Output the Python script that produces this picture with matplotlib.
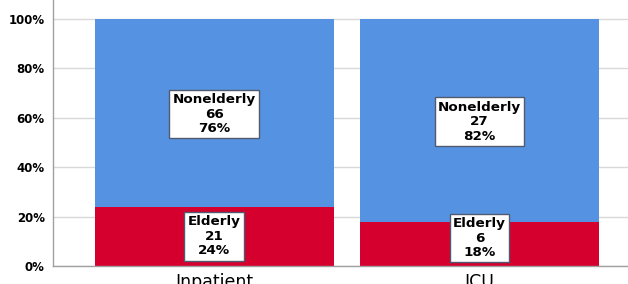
import numpy as np
import matplotlib.pyplot as plt

# ---- data ----
groups      = ["Inpatient", "ICU"]
elderly_n   = [21, 6]
nonelder_n  = [66, 27]
elderly_pct = [24, 18]
nonelder_pct = [76, 82]

c_elderly  = "#d5002e"
c_nonelder = "#5593e2"

fig = plt.figure(figsize=(6.28, 2.84), dpi=100)
ax = fig.add_axes([0.0844, 0.0634, 0.9156, 0.9366])

x = np.arange(len(groups))
ax.bar(x, elderly_pct, width=0.9, color=c_elderly, zorder=2)
ax.bar(x, nonelder_pct, width=0.9, bottom=elderly_pct, color=c_nonelder, zorder=2)

box = dict(boxstyle="square,pad=0.25", facecolor="white", edgecolor="#505a6e", linewidth=1)
for i in range(len(groups)):
    ax.text(x[i], max(elderly_pct[i] / 2, 11.3), f"Elderly\n{elderly_n[i]}\n{elderly_pct[i]}%",
            ha="center", va="center", fontsize=9.7, fontweight="bold",
            linespacing=1.15, bbox=box, zorder=3)
    ax.text(x[i], elderly_pct[i] + nonelder_pct[i] / 2 - 0.5, f"Nonelderly\n{nonelder_n[i]}\n{nonelder_pct[i]}%",
            ha="center", va="center", fontsize=9.7, fontweight="bold",
            linespacing=1.15, bbox=box, zorder=3)

ax.set_xlim(-0.608, 1.56)
ax.set_ylim(0, 107.7)
ax.set_yticks([0, 20, 40, 60, 80, 100])
ax.set_yticklabels([f"{v}%" for v in range(0, 101, 20)], fontsize=8.5, fontweight="bold")
ax.set_xticks(x)
ax.set_xticklabels(groups, fontsize=12.5)
ax.tick_params(axis="both", length=0, pad=6)
ax.tick_params(axis="x", pad=5)

ax.yaxis.grid(True, color="#d9d9d9", linewidth=1, zorder=0)
ax.set_axisbelow(True)
for s in ["top", "right"]:
    ax.spines[s].set_visible(False)
for s in ["left", "bottom"]:
    ax.spines[s].set_color("#a0a0a0")
    ax.spines[s].set_linewidth(1)

fig.savefig("out.png", dpi=100)
